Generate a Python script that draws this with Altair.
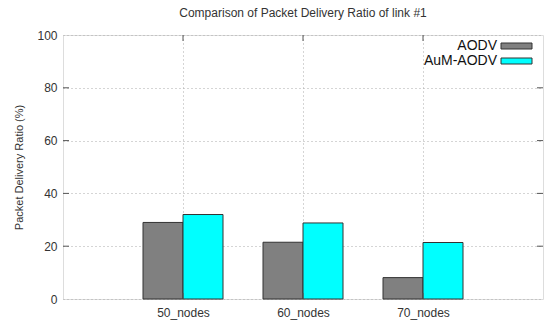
import altair as alt
import pandas as pd

# ---- data ----
nodes = ["50_nodes", "60_nodes", "70_nodes"]
series = ["AODV", "AuM-AODV"]
aodv = [29.0, 21.5, 8.1]
aum_aodv = [32.0, 28.8, 21.4]
colors = ["#808080", "#00ffff"]
y_ticks = [0, 20, 40, 60, 80, 100]

rows = []
for i, n in enumerate(nodes):
    rows.append({"node": n, "idx": i + 1, "series": series[0], "s": 0, "value": aodv[i]})
    rows.append({"node": n, "idx": i + 1, "series": series[1], "s": 1, "value": aum_aodv[i]})
df = pd.DataFrame(rows)

FONT = "Liberation Sans"
W, H = 480, 264

xscale = alt.Scale(domain=[0, 4], nice=False, zero=False)
yscale = alt.Scale(domain=[0, 100], nice=False)

label_expr = " : ".join(
    [f"datum.value == {i+1} ? '{n}'" for i, n in enumerate(nodes)]
) + " : ''"

bars = alt.Chart(df).transform_calculate(
    x0="datum.idx - 1/3 + datum.s/3",
    x1="datum.idx + datum.s/3",
).mark_rect(stroke="#333333", strokeWidth=1).encode(
    x=alt.X("x0:Q", scale=xscale,
            axis=alt.Axis(values=[1, 2, 3], labelExpr=label_expr, title=None,
                          grid=True, gridDash=[1, 3], gridColor="#aaaaaa",
                          ticks=False, domain=False, labelPadding=8,
                          labelFont=FONT, labelFontSize=12, labelColor="#333333")),
    x2="x1:Q",
    y=alt.Y("value:Q", scale=yscale,
            axis=alt.Axis(values=y_ticks, title="Packet Delivery Ratio (%)",
                          grid=True, gridDash=[1, 3], gridColor="#aaaaaa",
                          ticks=False, domain=False, labelPadding=6,
                          labelFont=FONT, labelFontSize=12, labelColor="#333333",
                          titleFont=FONT, titleFontSize=11, titleFontWeight="normal",
                          titleColor="#333333", titlePadding=12)),
    y2=alt.datum(0),
    color=alt.Color("series:N", scale=alt.Scale(domain=series, range=colors), legend=None),
)

# inward tick marks (left/right for y, bottom/top for x)
ytick_df = pd.DataFrame({"v": y_ticks[1:-1]})
xtick_df = pd.DataFrame({"v": [1, 2, 3]})
tick_color = "#555555"
yl = alt.Chart(ytick_df).mark_rule(color=tick_color).encode(
    y=alt.Y("v:Q", scale=yscale), x=alt.value(0), x2=alt.value(6))
yr = alt.Chart(ytick_df).mark_rule(color=tick_color).encode(
    y=alt.Y("v:Q", scale=yscale), x=alt.value(W - 6), x2=alt.value(W))
xb = alt.Chart(xtick_df).mark_rule(color=tick_color).encode(
    x=alt.X("v:Q", scale=xscale), y=alt.value(H - 6), y2=alt.value(H))
xt = alt.Chart(xtick_df).mark_rule(color=tick_color).encode(
    x=alt.X("v:Q", scale=xscale), y=alt.value(0), y2=alt.value(6))

# custom legend (text left, swatch right, like gnuplot)
leg_df = pd.DataFrame({"series": series, "i": [0, 1]})
leg_base = alt.Chart(leg_df).transform_calculate(py="11 + datum.i * 15")
leg_text = leg_base.mark_text(align="right", baseline="middle", font=FONT,
                              fontSize=14, color="#111111").encode(
    text="series:N", x=alt.value(434), y=alt.Y("py:Q", scale=None))
leg_rect = leg_base.transform_calculate(
    py0="datum.py - 3", py1="datum.py + 3").mark_rect(
    stroke="#333333", strokeWidth=1).encode(
    x=alt.value(438), x2=alt.value(469),
    y=alt.Y("py0:Q", scale=None), y2="py1:Q",
    color=alt.Color("series:N", scale=alt.Scale(domain=series, range=colors), legend=None))

chart = alt.layer(bars, yl, yr, xb, xt, leg_rect, leg_text).properties(
    width=W, height=H,
    title=alt.Title("Comparison of Packet Delivery Ratio of link #1",
                    font=FONT, fontSize=12, fontWeight="normal", color="#333333",
                    anchor="middle", offset=9),
    autosize=alt.AutoSizeParams(type="none"),
    padding={"left": 63, "top": 35, "right": 2, "bottom": 22},
).configure_view(stroke="#666666", strokeWidth=1.2).configure(background="white")

chart.save("out.html", embed_options={"renderer": "svg", "actions": False})
